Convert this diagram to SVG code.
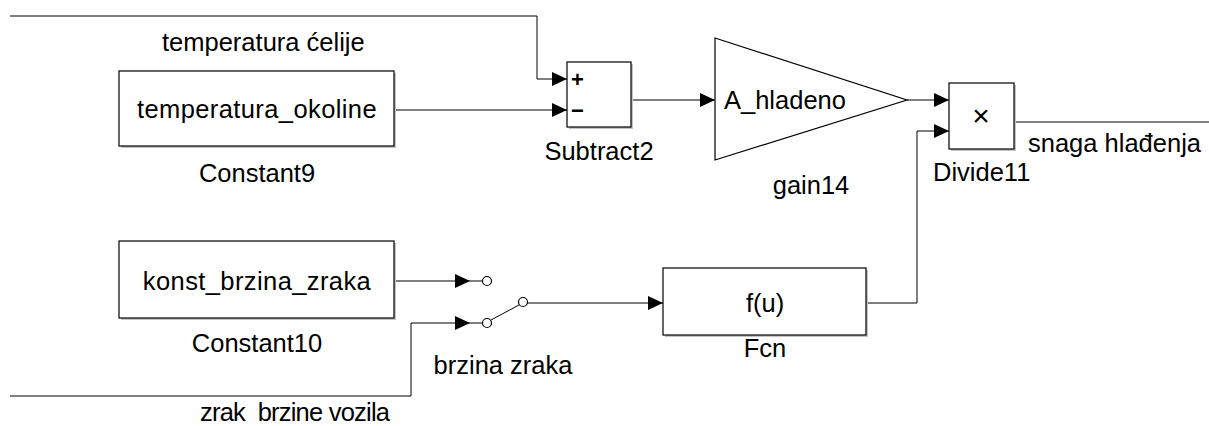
<svg xmlns="http://www.w3.org/2000/svg" width="1209" height="426" viewBox="0 0 1209 426">
<style>
text{font-family:"Liberation Sans",Arial,sans-serif;font-size:25.5px;fill:#000}
.blk{fill:#fff;stroke:#000;stroke-width:1.2}
.sh{fill:#c4c4c4;stroke:none}
.w{fill:none;stroke:#000;stroke-width:1}
.c{text-anchor:middle}
.pt{fill:#fff;stroke:#000;stroke-width:1.2}
</style>
<defs>
<marker id="ar" markerUnits="userSpaceOnUse" markerWidth="16" markerHeight="14" refX="15" refY="7" orient="auto">
<path d="M0,0 L15,7 L0,14 z" fill="#000"/>
</marker>
</defs>
<g id="connectors">
<polyline class="w" points="10,16 537,16 537,79 567,79" marker-end="url(#ar)"/>
<polyline class="w" points="394,110 567,110" marker-end="url(#ar)"/>
<polyline class="w" points="631,100 715,100" marker-end="url(#ar)"/>
<polyline class="w" points="907,100 949,100" marker-end="url(#ar)"/>
<polyline class="w" points="866,303 917,303 917,131 949,131" marker-end="url(#ar)"/>
<polyline class="w" points="1014,122 1209,122"/>
<polyline class="w" points="394,281 470,281" marker-end="url(#ar)"/>
<polyline class="w" points="10,396 411,396 411,323 470,323" marker-end="url(#ar)"/>
<polyline class="w" points="535,303 663,303" marker-end="url(#ar)"/>
</g>
<g id="Constant9">
<rect class="sh" x="121" y="73" width="275" height="75"/>
<rect class="blk" x="119" y="71" width="275" height="75"/>
<text class="c" x="257" y="118" style="letter-spacing:0.4px">temperatura_okoline</text>
<text class="c" x="257" y="182">Constant9</text>
</g>
<g id="Subtract2">
<rect class="sh" x="569" y="64" width="64" height="65"/>
<rect class="blk" x="567" y="62" width="64" height="65"/>
<text x="571" y="87" style="font-size:22px;font-weight:bold">+</text>
<text x="571" y="118" style="font-size:22px;font-weight:bold">−</text>
<text class="c" x="599" y="160">Subtract2</text>
</g>
<g id="gain14">
<polygon class="blk" points="715,38 907,100 715,160"/>
<text x="724" y="109">A_hladeno</text>
<text class="c" x="811" y="194">gain14</text>
</g>
<g id="Divide11">
<rect class="sh" x="951" y="85" width="65" height="66"/>
<rect class="blk" x="949" y="83" width="65" height="66"/>
<text class="c" x="981" y="126" style="font-size:30px">×</text>
<text x="933" y="181">Divide11</text>
</g>
<text x="1028" y="152">snaga hlađenja</text>
<text x="162" y="51">temperatura ćelije</text>
<g id="Constant10">
<rect class="sh" x="121" y="243" width="275" height="77"/>
<rect class="blk" x="119" y="241" width="275" height="77"/>
<text class="c" x="257" y="290" style="letter-spacing:0.4px">konst_brzina_zraka</text>
<text class="c" x="257" y="352">Constant10</text>
</g>
<g id="brzina_zraka">
<line class="w" x1="470" y1="281" x2="482" y2="281"/>
<circle class="pt" cx="487" cy="281" r="4.5"/>
<line class="w" x1="470" y1="323" x2="482" y2="323"/>
<circle class="pt" cx="487" cy="323" r="4.5"/>
<line class="w" x1="491" y1="320" x2="519" y2="305"/>
<circle class="pt" cx="523" cy="302" r="4.5"/>
<line class="w" x1="527" y1="303" x2="535" y2="303"/>
<text class="c" x="503" y="374">brzina zraka</text>
</g>
<g id="Fcn">
<rect class="sh" x="665" y="270" width="203" height="67"/>
<rect class="blk" x="663" y="268" width="203" height="67"/>
<text class="c" x="765" y="312">f(u)</text>
<text class="c" x="765" y="357">Fcn</text>
</g>
<text x="200" y="421" xml:space="preserve" textLength="190" lengthAdjust="spacing">zrak  brzine vozila</text>
</svg>
